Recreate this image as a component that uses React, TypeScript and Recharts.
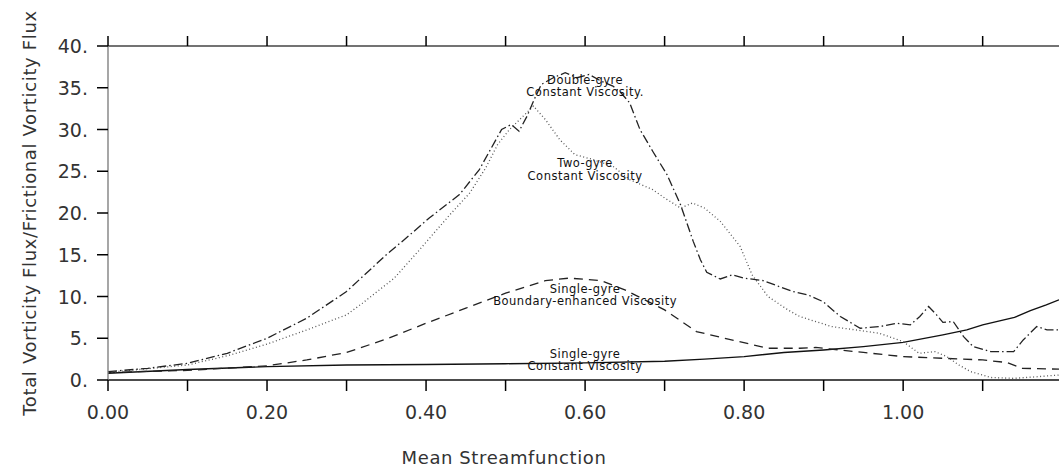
import React from "react";
import {
  LineChart,
  Line,
  XAxis,
  YAxis,
  ReferenceDot,
  Label,
} from "recharts";

const FONT = "'DejaVu Sans', sans-serif";
const NOTE_FONT = "'DejaVu Sans', sans-serif";

// x positions (mean streamfunction) and values for each curve
const singleConstX = [0, 0.1, 0.2, 0.3, 0.4, 0.5, 0.6, 0.7, 0.75, 0.8, 0.85, 0.9, 0.95, 1.0, 1.05, 1.08, 1.1, 1.14, 1.16, 1.18, 1.196];
const singleConstY = [0.8, 1.25, 1.6, 1.8, 1.85, 1.95, 2.05, 2.25, 2.5, 2.8, 3.3, 3.6, 4.0, 4.5, 5.4, 6.0, 6.6, 7.5, 8.3, 9.0, 9.6];

const singleBoundX = [0, 0.1, 0.2, 0.25, 0.3, 0.35, 0.4, 0.45, 0.5, 0.55, 0.58, 0.62, 0.65, 0.7, 0.74, 0.78, 0.83, 0.87, 0.89, 0.95, 1.0, 1.05, 1.1, 1.13, 1.15, 1.196];
const singleBoundY = [0.9, 1.15, 1.7, 2.4, 3.3, 4.9, 6.8, 8.6, 10.4, 11.9, 12.2, 11.9, 10.8, 8.4, 5.8, 4.9, 3.8, 3.8, 3.9, 3.3, 2.8, 2.6, 2.4, 2.1, 1.4, 1.3];

const twoGyreX = [0, 0.1, 0.15, 0.2, 0.25, 0.3, 0.32, 0.36, 0.39, 0.43, 0.455, 0.475, 0.49, 0.505, 0.52, 0.535, 0.55, 0.568, 0.587, 0.61, 0.635, 0.656, 0.685, 0.7, 0.72, 0.735, 0.75, 0.77, 0.795, 0.81, 0.83, 0.855, 0.87, 0.91, 0.94, 0.97, 1.0, 1.02, 1.04, 1.055, 1.07, 1.085, 1.11, 1.14, 1.17, 1.196];
const twoGyreY = [0.9, 1.8, 2.9, 4.3, 6.0, 7.8, 9.2, 12.2, 15.4, 19.8, 22.4, 25.4, 28.2, 30.0, 31.4, 32.8, 31.2, 28.8, 27.0, 26.4, 25.6, 24.0, 22.8, 21.8, 20.6, 21.2, 20.6, 19.0, 16.0, 12.6, 10.0, 8.4, 7.6, 6.4, 6.0, 5.6, 4.6, 3.2, 3.4, 2.8, 1.8, 1.0, 0.3, 0.2, 0.4, 0.6];

const doubleGyreX = [0, 0.05, 0.1, 0.15, 0.2, 0.25, 0.3, 0.35, 0.375, 0.404, 0.442, 0.467, 0.495, 0.507, 0.517, 0.527, 0.536, 0.545, 0.56, 0.575, 0.59, 0.605, 0.62, 0.635, 0.645, 0.656, 0.669, 0.685, 0.703, 0.72, 0.736, 0.745, 0.753, 0.77, 0.785, 0.8, 0.824, 0.861, 0.88, 0.899, 0.921, 0.946, 0.971, 0.992, 1.009, 1.021, 1.032, 1.042, 1.05, 1.063, 1.076, 1.088, 1.11, 1.139, 1.151, 1.168, 1.181, 1.196];
const doubleGyreY = [1.0, 1.4, 2.0, 3.2, 5.0, 7.4, 10.6, 15.0, 17.0, 19.4, 22.2, 25.2, 30.0, 30.6, 29.8, 31.6, 33.6, 35.4, 36.2, 36.8, 36.2, 36.6, 35.8, 35.2, 34.4, 33.2, 30.0, 27.4, 24.6, 21.0, 16.6, 14.4, 12.9, 12.1, 12.6, 12.2, 11.9, 10.6, 10.2, 9.4, 7.6, 6.2, 6.4, 6.8, 6.6, 7.6, 8.8, 7.8, 6.9, 7.0, 5.2, 4.0, 3.4, 3.4, 4.8, 6.4, 6.0, 6.0];

const xTicks = [0, 0.1, 0.2, 0.3, 0.4, 0.5, 0.6, 0.7, 0.8, 0.9, 1.0, 1.1];
const yTicks = [0, 5, 10, 15, 20, 25, 30, 35, 40];

const annotations = [
  { x: 0.6, y: 35.95, text: "Double-gyre" },
  { x: 0.6, y: 34.45, text: "Constant Viscosity." },
  { x: 0.6, y: 25.95, text: "Two-gyre" },
  { x: 0.6, y: 24.4, text: "Constant Viscosity" },
  { x: 0.6, y: 10.95, text: "Single-gyre" },
  { x: 0.6, y: 9.5, text: "Boundary-enhanced Viscosity" },
  { x: 0.6, y: 3.15, text: "Single-gyre" },
  { x: 0.6, y: 1.65, text: "Constant Viscosity" },
];

const toPoints = (xs: number[], ys: number[]) => xs.map((x, i) => ({ x, y: ys[i] }));

const series = [
  { name: "singleConst", data: toPoints(singleConstX, singleConstY), dash: undefined, color: "#111", width: 1.4 },
  { name: "singleBound", data: toPoints(singleBoundX, singleBoundY), dash: "9 6", color: "#222", width: 1.3 },
  { name: "twoGyre", data: toPoints(twoGyreX, twoGyreY), dash: "1 2.5", color: "#555", width: 1.3 },
  { name: "doubleGyre", data: toPoints(doubleGyreX, doubleGyreY), dash: "9 3 1.5 3", color: "#222", width: 1.3 },
];

// bottom axis: tick mark going down, label on every other tick
const XTick = (props: any) => {
  const { x, y, payload } = props;
  const v = payload.value as number;
  const labelled = Math.round(v * 10) % 2 === 0;
  return (
    <g>
      <line x1={x} y1={y} x2={x} y2={y + 11} stroke="#000" strokeWidth={1.5} />
      {labelled && (
        <text x={x} y={y + 32} textAnchor="middle" dominantBaseline="central" fontFamily={FONT} fontSize={19} fill="#333">
          {v.toFixed(2)}
        </text>
      )}
    </g>
  );
};

// top axis: tick mark only, pointing up
const TopTick = (props: any) => {
  const { x, y } = props;
  return <line x1={x} y1={y} x2={x} y2={y - 10} stroke="#000" strokeWidth={1.5} />;
};

const YTick = (props: any) => {
  const { x, y, payload } = props;
  return (
    <g>
      <line x1={x - 11} y1={y} x2={x} y2={y} stroke="#000" strokeWidth={1.5} />
      <text x={x - 20} y={y} textAnchor="end" dominantBaseline="central" fontFamily={FONT} fontSize={19} fill="#333">
        {`${payload.value}.`}
      </text>
    </g>
  );
};

export default function App() {
  return (
    <div style={{ position: "absolute", left: 0, top: 0, background: "#fff" }}>
      <LineChart width={1059} height={466} margin={{ top: 10, right: 0, bottom: 0, left: 0 }}>
        <XAxis
          dataKey="x"
          type="number"
          domain={[0, 1.196]}
          allowDataOverflow
          ticks={xTicks}
          interval={0}
          tickSize={0}
          tickMargin={0}
          height={86}
          axisLine={{ stroke: "#111", strokeWidth: 1.3 }}
          tickLine={false}
          tick={<XTick />}
        >
          <Label
            content={(p: any) => {
              const vb = p.viewBox;
              return (
                <text x={vb.x + 396} y={vb.y + 77} textAnchor="middle" dominantBaseline="central" fontFamily={FONT} fontSize={18} fill="#333" letterSpacing={0.6}>
                  Mean Streamfunction
                </text>
              );
            }}
          />
        </XAxis>
        <XAxis
          xAxisId="top"
          orientation="top"
          dataKey="x"
          type="number"
          domain={[0, 1.196]}
          allowDataOverflow
          ticks={xTicks}
          interval={0}
          tickSize={0}
          tickMargin={0}
          height={36}
          tick={<TopTick />}
          tickLine={false}
          axisLine={{ stroke: "#444", strokeWidth: 1.3 }}
        />
        <YAxis
          type="number"
          domain={[0, 40]}
          ticks={yTicks}
          interval={0}
          width={108}
          tickSize={0}
          tickMargin={0}
          axisLine={{ stroke: "#777", strokeWidth: 1.3 }}
          tickLine={false}
          tick={<YTick />}
        >
          <Label
            content={(p: any) => {
              const vb = p.viewBox;
              const cy = vb.y + vb.height / 2;
              return (
                <text
                  transform={`translate(${vb.x + 29}, ${cy}) rotate(-90)`}
                  textAnchor="middle"
                  dominantBaseline="central"
                  fontFamily={FONT}
                  fontSize={18}
                  fill="#333"
                  letterSpacing={0.65}
                >
                  Total Vorticity Flux/Frictional Vorticity Flux
                </text>
              );
            }}
          />
        </YAxis>
        {series.map((s) => (
          <Line
            key={s.name}
            data={s.data}
            dataKey="y"
            type="linear"
            stroke={s.color}
            strokeWidth={s.width}
            strokeDasharray={s.dash}
            dot={false}
            activeDot={false}
            isAnimationActive={false}
          />
        ))}
        {annotations.map((a, i) => (
          <ReferenceDot
            key={i}
            x={a.x}
            y={a.y}
            r={0}
            shape={(p: any) => (
              <text x={p.cx} y={p.cy} textAnchor="middle" dominantBaseline="central" fontFamily={NOTE_FONT} fontSize={11.5} letterSpacing={0.5} fill="#111">
                {a.text}
              </text>
            )}
          />
        ))}
      </LineChart>
    </div>
  );
}
